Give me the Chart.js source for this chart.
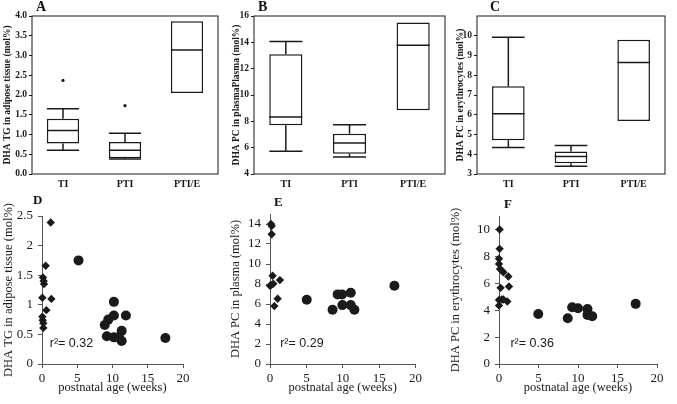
<!DOCTYPE html>
<html>
<head>
<meta charset="utf-8">
<script src="https://cdn.jsdelivr.net/npm/chart.js@4.4.0/dist/chart.umd.min.js"></script>
<style>
  body { margin: 0; background: #fff; }
  #wrap { position: relative; width: 677px; height: 404px; overflow: hidden; }
  canvas { position: absolute; }
  .lbl { position: absolute; font-family: "Liberation Serif", serif; font-weight: bold; color: #111; }
</style>
</head>
<body>
<div id="wrap">
  <canvas id="cA" width="222" height="196" style="left:0;top:0"></canvas>
  <canvas id="cB" width="225" height="196" style="left:225px;top:0"></canvas>
  <canvas id="cC" width="230" height="196" style="left:447px;top:0"></canvas>
  <canvas id="cD" width="200" height="200" style="left:0;top:200px"></canvas>
  <canvas id="cE" width="200" height="200" style="left:225px;top:200px"></canvas>
  <canvas id="cF" width="230" height="200" style="left:447px;top:200px"></canvas>
  <div class="lbl" style="left:36px;top:-1px;font-size:14px">A</div>
  <div class="lbl" style="left:258px;top:-1px;font-size:14px">B</div>
  <div class="lbl" style="left:490px;top:-1px;font-size:14px">C</div>
  <div class="lbl" style="left:33px;top:192px;font-size:13px">D</div>
  <div class="lbl" style="left:274px;top:194px;font-size:13px">E</div>
  <div class="lbl" style="left:504px;top:196px;font-size:13px">F</div>
</div>
<script>
// box plot data (TI, PTI, PTI/E)
const boxCats = ["TI", "PTI", "PTI/E"];

const aMin = [0.60, 0.38, null];
const aQ1 = [0.77, 0.40, 2.05];
const aMed = [1.10, 0.60, 3.14];
const aQ3 = [1.40, 0.81, 3.87];
const aMax = [1.65, 1.03, null];
const aOut = [2.37, 1.73, null];
const aTicks = [0, 0.5, 1, 1.5, 2, 2.5, 3, 3.5, 4];

const bMin = [5.72, 5.29, null];
const bQ1 = [7.71, 5.54, 8.85];
const bMed = [8.32, 6.35, 13.78];
const bQ3 = [13.1, 7.06, 15.5];
const bMax = [14.06, 7.74, null];
const bTicks = [4, 6, 8, 10, 12, 14, 16];

const cMin = [4.34, 3.39, null];
const cQ1 = [4.71, 3.55, 5.68];
const cMed = [6.05, 3.89, 8.64];
const cQ3 = [7.44, 4.14, 9.8];
const cMax = [9.92, 4.44, null];
const cTicks = [3, 4, 5, 6, 7, 8, 9, 10];

// scatter data: postnatal age (weeks) vs DHA
const ageTicks = [0, 5, 10, 15, 20];

const dDiaX = [1.24, 0.52, 0.14, 0.24, 0.29, 0.05, 1.33, 0.62, 0.05, 0.10, 0.19, 0.19];
const dDiaY = [2.39, 1.66, 1.46, 1.40, 1.35, 1.12, 1.10, 0.91, 0.80, 0.74, 0.69, 0.61];
const dCirX = [5.18, 10.2, 10.2, 11.9, 9.4, 8.9, 9.2, 10.2, 10.9, 11.3, 11.3, 17.5];
const dCirY = [1.75, 1.05, 0.82, 0.82, 0.75, 0.66, 0.47, 0.45, 0.45, 0.56, 0.39, 0.44];
const dTicks = [0, 0.5, 1, 1.5, 2, 2.5];

const eDiaX = [0.14, 0.23, 0.23, 0.36, 1.36, 0, 0.45, 0.14, 1.05, 0.6];
const eDiaY = [14.0, 13.8, 12.97, 8.83, 8.39, 7.83, 8.03, 7.9, 6.52, 5.79];
const eCirX = [5.05, 8.6, 9.3, 9.9, 11.1, 9.95, 11.1, 11.6, 17.1];
const eCirY = [6.42, 5.42, 6.96, 6.96, 7.12, 5.89, 5.89, 5.42, 7.83];
const eTicks = [0, 2, 4, 6, 8, 10, 12, 14];

const fDiaX = [0.08, 0.08, 0, 0, 0.13, 0.34, 0.55, 1.18, 1.26, 0.2, 0, 0.34, 0.55, 1.05, 0];
const fDiaY = [10.0, 8.56, 7.82, 7.44, 7.07, 6.95, 6.82, 6.5, 5.76, 5.66, 4.76, 4.79, 4.79, 4.64, 4.34];
const fCirX = [4.97, 8.7, 9.26, 10.0, 11.2, 11.2, 11.8, 17.3];
const fCirY = [3.72, 3.4, 4.22, 4.14, 4.09, 3.65, 3.55, 4.47];
const fTicks = [0, 2, 4, 6, 8, 10];

const ink = "#1a1a1a";
const serif = "'Liberation Serif', 'Times New Roman', serif";

// medians, whiskers, caps and frame for the box charts
const boxExtras = {
    id: "boxExtras",
    afterDatasetsDraw(chart, args, opts) {
        const { ctx, chartArea, scales: { y } } = chart;
        const bars = chart.getDatasetMeta(0).data;
        const line = (x1, y1, x2, y2) => {
            ctx.beginPath();
            ctx.moveTo(x1, y1);
            ctx.lineTo(x2, y2);
            ctx.stroke();
        };
        ctx.save();
        ctx.strokeStyle = ink;
        ctx.lineWidth = 1.5;
        bars.forEach((bar, i) => {
            const half = bar.width / 2;
            const med = y.getPixelForValue(opts.med[i]);
            line(bar.x - half, med, bar.x + half, med);
            if (opts.max[i] != null) {
                const top = y.getPixelForValue(opts.max[i]);
                line(bar.x, y.getPixelForValue(opts.q3[i]), bar.x, top);
                line(bar.x - half, top, bar.x + half, top);
            }
            if (opts.min[i] != null) {
                const bot = y.getPixelForValue(opts.min[i]);
                line(bar.x, y.getPixelForValue(opts.q1[i]), bar.x, bot);
                line(bar.x - half, bot, bar.x + half, bot);
            }
        });
        ctx.lineWidth = 1;
        ctx.strokeRect(chartArea.left, chartArea.top, chartArea.right - chartArea.left, chartArea.bottom - chartArea.top);
        ctx.restore();
    }
};

// r² note placed in data units
const rNote = {
    id: "rNote",
    afterDatasetsDraw(chart, args, opts) {
        const { ctx, scales: { x, y } } = chart;
        ctx.save();
        ctx.fillStyle = ink;
        ctx.font = "12.5px 'Liberation Sans', Arial, sans-serif";
        ctx.textBaseline = "middle";
        ctx.fillText(opts.text, x.getPixelForValue(opts.x), y.getPixelForValue(opts.y));
        ctx.restore();
    }
};

function boxChart(id, title, q1, med, q3, min, max, ticks, yMax, out, yw, pad, fmt, tpad) {
    const datasets = [{
        type: "bar",
        data: q1.map((v, i) => [v, q3[i]]),
        backgroundColor: "#fff",
        borderColor: ink,
        borderWidth: 1.5,
        borderSkipped: false,
        barPercentage: 0.52,
        categoryPercentage: 1
    }];
    if (out) {
        datasets.push({
            type: "line",
            data: out,
            showLine: false,
            pointRadius: 1.6,
            pointBackgroundColor: ink,
            pointBorderWidth: 0
        });
    }
    new Chart(document.getElementById(id), {
        type: "bar",
        data: { labels: boxCats, datasets },
        plugins: [boxExtras],
        options: {
            responsive: false,
            animation: false,
            layout: { padding: pad },
            plugins: {
                legend: { display: false },
                tooltip: { enabled: false },
                boxExtras: { q1, med, q3, min, max }
            },
            scales: {
                x: {
                    grid: { display: false, drawTicks: false },
                    border: { display: false },
                    ticks: { color: ink, padding: 4, font: { family: serif, size: 10, weight: "bold" } },
                    afterFit: s => { s.height = 22; }
                },
                y: {
                    min: ticks[0],
                    max: yMax,
                    afterBuildTicks: s => { s.ticks = ticks.map(v => ({ value: v })); },
                    grid: { drawOnChartArea: false, tickLength: 3, color: ink },
                    border: { display: false },
                    ticks: { color: ink, padding: 2, font: { family: serif, size: 9.5, weight: "bold" }, callback: fmt },
                    title: { display: true, text: title, color: ink, padding: { top: tpad, bottom: 0 }, font: { family: serif, size: 9.5, weight: "bold" } },
                    afterFit: s => { s.width = yw; }
                }
            }
        }
    });
}

boxChart("cA", "DHA TG in adipose tissue (mol%)", aQ1, aMed, aQ3, aMin, aMax, aTicks, 4, aOut, 32,
    { top: 16, right: 4, left: 0, bottom: 0 }, v => v.toFixed(1), 2);
boxChart("cB", "DHA PC in plasmaPlasma (mol%)", bQ1, bMed, bQ3, bMin, bMax, bTicks, 16, null, 29,
    { top: 16, right: 5, left: 0, bottom: 0 }, v => v, 6);
// C axis runs to 11 but only 3..10 are labelled
boxChart("cC", "DHA PC in erythrocytes (mol%)", cQ1, cMed, cQ3, cMin, cMax, cTicks, 11, null, 30,
    { top: 16, right: 12, left: 0, bottom: 0 }, v => v, 8);

const pts = (xs, ys) => xs.map((x, i) => ({ x, y: ys[i] }));

function scatterChart(id, title, diaX, diaY, cirX, cirY, yTicks, yMax, yw, pad, note, tpad) {
    new Chart(document.getElementById(id), {
        type: "scatter",
        data: {
            datasets: [
                { data: pts(diaX, diaY), pointStyle: "rectRot", pointRadius: 4.2, backgroundColor: ink, borderWidth: 0, clip: false },
                { data: pts(cirX, cirY), pointStyle: "circle", pointRadius: 5, backgroundColor: ink, borderWidth: 0, clip: false }
            ]
        },
        plugins: [rNote],
        options: {
            responsive: false,
            animation: false,
            layout: { padding: pad },
            plugins: {
                legend: { display: false },
                tooltip: { enabled: false },
                rNote: note
            },
            scales: {
                x: {
                    min: ageTicks[0], max: ageTicks[ageTicks.length - 1],
                    afterBuildTicks: s => { s.ticks = ageTicks.map(v => ({ value: v })); },
                    ticks: { color: ink, padding: 3, font: { family: serif, size: 13 } },
                    grid: { drawOnChartArea: false, tickLength: 4, color: "#555" },
                    border: { color: "#555" },
                    title: { display: true, text: "postnatal age (weeks)", color: ink, padding: { top: 0, bottom: 5 }, font: { family: serif, size: 12.5 } },
                    afterFit: s => { s.height = 36; }
                },
                y: {
                    min: 0, max: yMax,
                    afterBuildTicks: s => { s.ticks = yTicks.map(v => ({ value: v })); },
                    ticks: { color: ink, padding: 5, font: { family: serif, size: 13 }, callback: v => String(v) },
                    grid: { drawOnChartArea: false, tickLength: 4, color: "#555" },
                    border: { color: "#555" },
                    title: { display: true, text: title, color: ink, padding: { top: tpad, bottom: 0 }, font: { family: serif, size: 12.5 } },
                    afterFit: s => { s.width = yw; }
                }
            }
        }
    });
}

scatterChart("cD", "DHA TG in adipose tissue (mol%)", dDiaX, dDiaY, dCirX, dCirY, dTicks, 2.5, 42,
    { top: 16, right: 17, left: 0, bottom: 0 }, { text: "r²= 0.32", x: 1.1, y: 0.34 }, 1);
scatterChart("cE", "DHA PC in plasma (mol%)", eDiaX, eDiaY, eCirX, eCirY, eTicks, 15, 45,
    { top: 14, right: 8, left: 0, bottom: 0 }, { text: "r²= 0.29", x: 1.4, y: 2.0 }, 3);
scatterChart("cF", "DHA PC in erythrocytes (mol%)", fDiaX, fDiaY, fCirX, fCirY, fTicks, 11, 52,
    { top: 16, right: 20, left: 0, bottom: 0 }, { text: "r²= 0.36", x: 1.45, y: 1.5 }, 1);
</script>
</body>
</html>
